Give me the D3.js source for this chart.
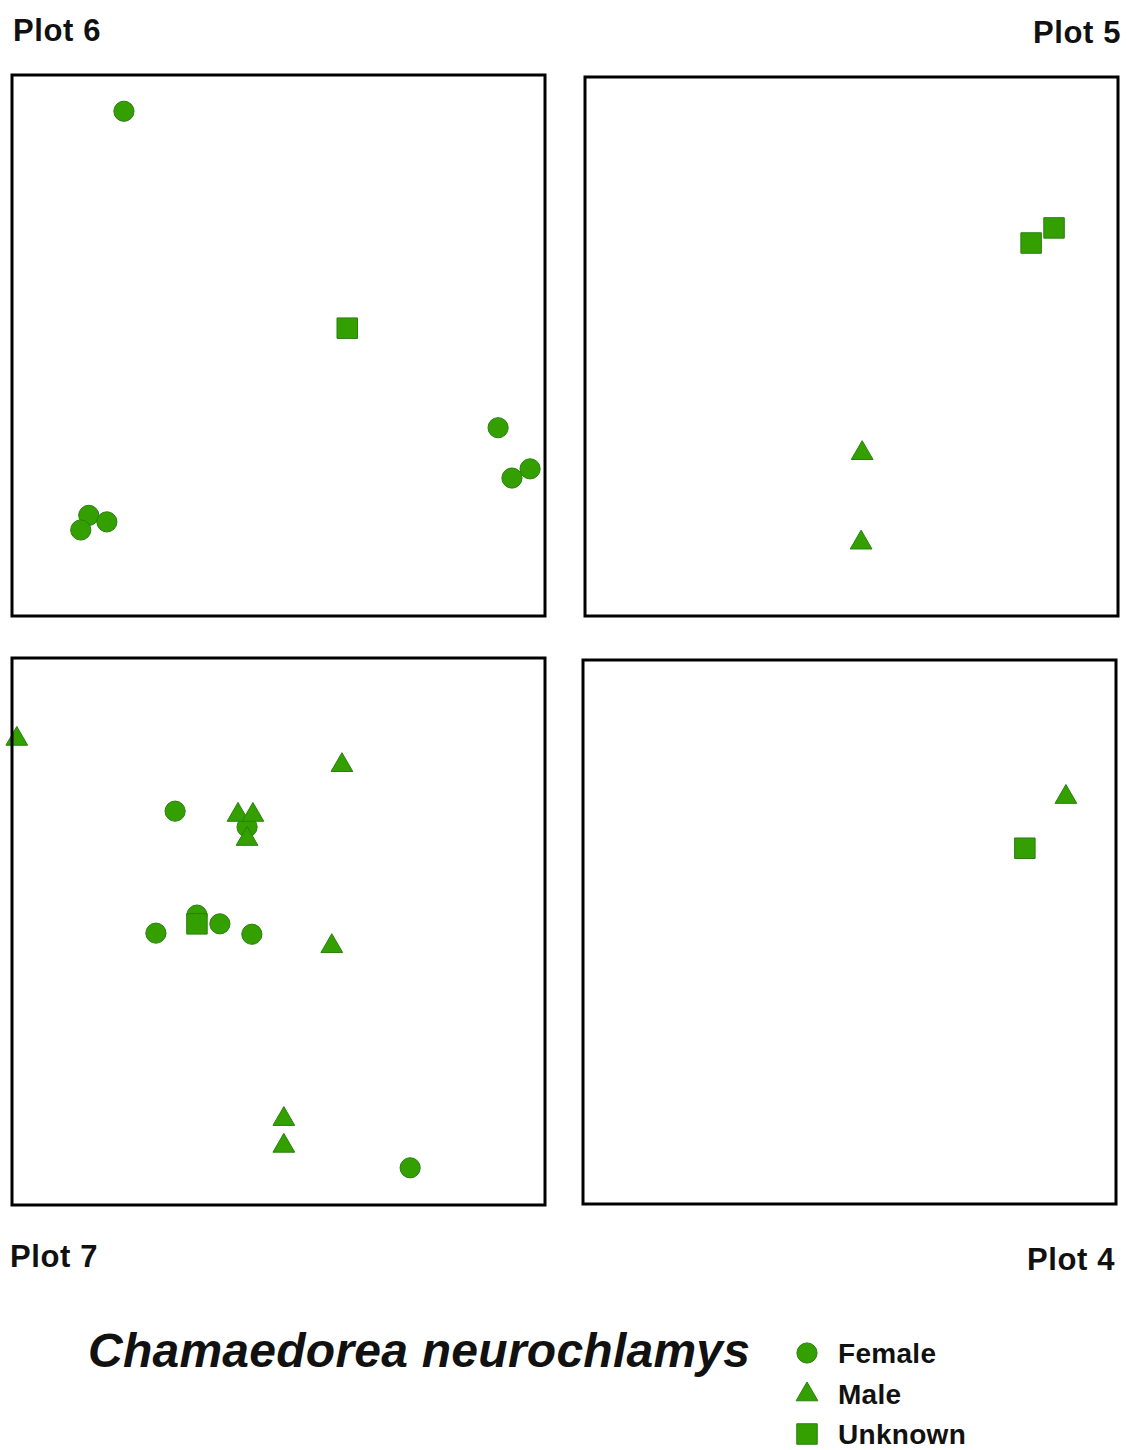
<!DOCTYPE html>
<html>
<head>
<meta charset="utf-8">
<script src="https://cdn.jsdelivr.net/npm/d3@7/dist/d3.min.js"></script>
<style>
  html, body { margin: 0; padding: 0; background: #fff; }
  svg { display: block; }
  text { font-family: "Liberation Sans", Arial, sans-serif; fill: #111; }
</style>
</head>
<body>
<svg id="chart" width="1128" height="1450"></svg>
<script>
// ---------- DATA (positions within each plot, 0–100 units) ----------
const plotNames = ["Plot 6", "Plot 5", "Plot 7", "Plot 4"];
const categories = ["Female", "Male", "Unknown"];
const titleText = "Chamaedorea neurochlamys";

const plot6Points = [
  { sex: "Female", x: 21.0, y: 93.3 },
  { sex: "Female", x: 91.2, y: 34.8 },
  { sex: "Female", x: 97.2, y: 27.2 },
  { sex: "Female", x: 93.8, y: 25.5 },
  { sex: "Female", x: 14.4, y: 18.6 },
  { sex: "Female", x: 17.8, y: 17.4 },
  { sex: "Female", x: 12.9, y: 15.9 },
  { sex: "Unknown", x: 62.9, y: 53.2 }
];
const plot5Points = [
  { sex: "Unknown", x: 83.7, y: 69.2 },
  { sex: "Unknown", x: 88.0, y: 72.0 },
  { sex: "Male", x: 52.0, y: 30.2 },
  { sex: "Male", x: 51.8, y: 13.6 }
];
const plot7Points = [
  { sex: "Female", x: 30.6, y: 72.0 },
  { sex: "Female", x: 44.1, y: 69.1 },
  { sex: "Female", x: 27.0, y: 49.7 },
  { sex: "Female", x: 34.7, y: 53.0 },
  { sex: "Female", x: 39.0, y: 51.4 },
  { sex: "Female", x: 45.0, y: 49.5 },
  { sex: "Female", x: 74.7, y: 6.8 },
  { sex: "Male", x: 0.9, y: 85.2 },
  { sex: "Male", x: 61.9, y: 80.4 },
  { sex: "Male", x: 42.4, y: 71.3 },
  { sex: "Male", x: 45.2, y: 71.3 },
  { sex: "Male", x: 44.1, y: 66.9 },
  { sex: "Male", x: 60.0, y: 47.3 },
  { sex: "Male", x: 51.0, y: 15.7 },
  { sex: "Male", x: 51.0, y: 10.8 },
  { sex: "Unknown", x: 34.7, y: 51.4 }
];
const plot4Points = [
  { sex: "Male", x: 90.6, y: 74.8 },
  { sex: "Unknown", x: 82.9, y: 65.4 }
];
const plotData = [plot6Points, plot5Points, plot7Points, plot4Points];

// ---------- LAYOUT ----------
const panels = [
  { left: 12, right: 545, top: 75, bottom: 616, lx: 13, ly: 41, anchor: "start" },
  { left: 585, right: 1118, top: 77, bottom: 616, lx: 1121, ly: 43, anchor: "end" },
  { left: 12, right: 545, top: 658, bottom: 1205, lx: 10, ly: 1267, anchor: "start" },
  { left: 583, right: 1116, top: 660, bottom: 1204, lx: 1115, ly: 1270, anchor: "end" }
];

const green = "#33a000";
const greenStroke = "#2b7f10";
const symbolScale = d3.scaleOrdinal()
  .domain(categories)
  .range([d3.symbolCircle, d3.symbolTriangle, d3.symbolSquare]);
const sizeScale = d3.scaleOrdinal()
  .domain(categories)
  .range([320, 205, 420]);
const drawOrder = d3.scaleOrdinal().domain(categories).range([0, 1, 2]);

const svg = d3.select("#chart");
svg.append("rect").attr("width", 1128).attr("height", 1450).attr("fill", "#fff");

panels.forEach((p, i) => {
  const x = d3.scaleLinear().domain([0, 100]).range([p.left, p.right]);
  const y = d3.scaleLinear().domain([0, 100]).range([p.bottom, p.top]);
  const g = svg.append("g");

  const pts = plotData[i].slice().sort((a, b) => drawOrder(a.sex) - drawOrder(b.sex));
  g.selectAll("path.mark")
    .data(pts)
    .join("path")
    .attr("class", "mark")
    .attr("d", d => d3.symbol().type(symbolScale(d.sex)).size(sizeScale(d.sex))())
    .attr("transform", d => `translate(${x(d.x)},${y(d.y)})`)
    .attr("fill", green)
    .attr("stroke", greenStroke)
    .attr("stroke-width", 1);

  g.append("rect")
    .attr("x", x(0)).attr("y", y(100))
    .attr("width", x(100) - x(0)).attr("height", y(0) - y(100))
    .attr("fill", "none")
    .attr("stroke", "#000")
    .attr("stroke-width", 3);

  svg.append("text")
    .attr("x", p.lx).attr("y", p.ly)
    .attr("text-anchor", p.anchor)
    .attr("font-size", 31)
    .attr("font-weight", "bold")
    .attr("letter-spacing", 0.6)
    .text(plotNames[i]);
});

// Title
svg.append("text")
  .attr("x", 88).attr("y", 1367)
  .attr("font-size", 48)
  .attr("font-weight", "bold")
  .attr("font-style", "italic")
  .attr("letter-spacing", 0.25)
  .text(titleText);

// Legend
const legend = svg.append("g");
const legendY = d3.scalePoint().domain(categories).range([1353, 1434]);
categories.forEach(c => {
  legend.append("path")
    .attr("d", d3.symbol().type(symbolScale(c)).size(sizeScale(c))())
    .attr("transform", `translate(807,${legendY(c) + (c === "Male" ? 1 : 0)})`)
    .attr("fill", green)
    .attr("stroke", greenStroke)
    .attr("stroke-width", 1);
  legend.append("text")
    .attr("x", 838).attr("y", legendY(c) + 10)
    .attr("font-size", 28)
    .attr("font-weight", "bold")
    .attr("letter-spacing", 0.3)
    .text(c);
});
</script>
</body>
</html>
